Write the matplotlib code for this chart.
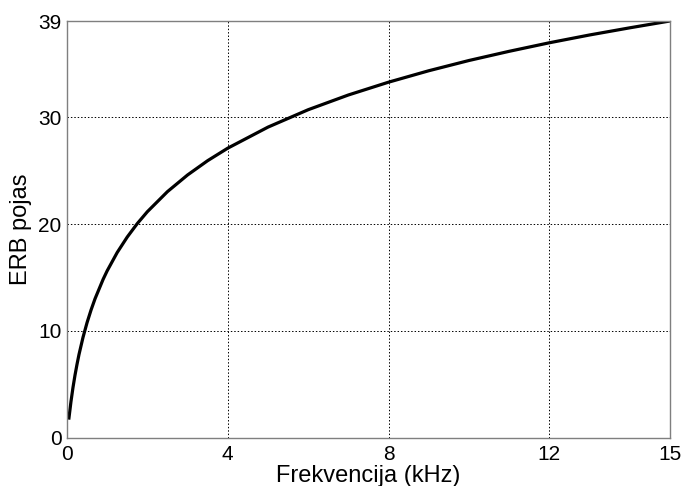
import numpy as np
from matplotlib import pyplot as plt

# frequency (kHz) and ERB band
freq_khz = [0.05, 0.1, 0.15, 0.2, 0.25, 0.3, 0.4, 0.5, 0.6, 0.7, 0.9, 1.0, 1.25, 1.5,
            1.75, 2.0, 2.5, 3.0, 3.5, 4.0, 5.0, 6.0, 7.0, 8.0, 9.0, 10.0, 11.0, 12.0,
            13.0, 14.0, 15.0]
erb_band = [1.84, 3.37, 4.69, 5.84, 6.86, 7.79, 9.40, 10.77, 11.96, 13.02, 14.83, 15.62,
            17.34, 18.79, 20.05, 21.16, 23.04, 24.60, 25.94, 27.11, 29.08, 30.71, 32.09,
            33.29, 34.36, 35.32, 36.18, 36.98, 37.71, 38.38, 39.02]

x_ticks = [0, 4, 8, 12, 15]
y_ticks = [0, 10, 20, 30, 39]

plt.rcParams['font.family'] = ['Liberation Sans', 'DejaVu Sans']

fig = plt.figure(figsize=(6.83, 4.86), dpi=100)
ax = fig.add_axes([0.098, 0.0994, 0.883, 0.857])

ax.plot(freq_khz, erb_band, color='black', linewidth=2.3, solid_joinstyle='round')

ax.set_xlim(0, 15)
ax.set_ylim(0, 39)
ax.set_xticks(x_ticks)
ax.set_yticks(y_ticks)
ax.grid(True, color='black', linestyle=(0, (1.5, 2)), linewidth=0.7)
ax.tick_params(length=0, labelsize=15)
ax.tick_params(axis='x', pad=5)
ax.tick_params(axis='y', pad=4)

for s in ax.spines.values():
    s.set_color('#7f7f7f')
    s.set_linewidth(1.0)

ax.set_xlabel("Frekvencija (kHz)", fontsize=17, labelpad=1)
ax.set_ylabel("ERB pojas", fontsize=17, labelpad=4)

fig.savefig("out.png", dpi=100)
